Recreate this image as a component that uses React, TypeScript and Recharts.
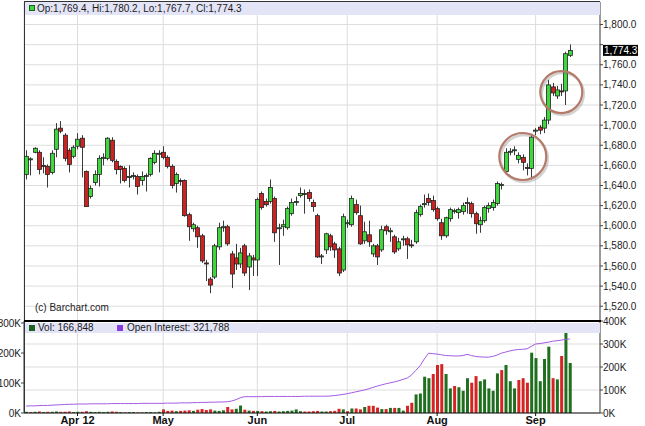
import React from 'react';
import { ComposedChart, Bar, Line, XAxis, YAxis, CartesianGrid, ReferenceDot, Cell } from 'recharts';

const dates = [
  '03-15','03-16','03-19','03-20','03-21','03-22','03-23','03-26','03-27','03-28','03-29','03-30',
  '04-02','04-03','04-04','04-05','04-09','04-10','04-11','04-12','04-13','04-16','04-17','04-18','04-19','04-20','04-23','04-24','04-25','04-26','04-27','04-30',
  '05-01','05-02','05-03','05-04','05-07','05-08','05-09','05-10','05-11','05-14','05-15','05-16','05-17','05-18','05-21','05-22','05-23','05-24','05-25','05-29','05-30','05-31',
  '06-01','06-04','06-05','06-06','06-07','06-08','06-11','06-12','06-13','06-14','06-15','06-18','06-19','06-20','06-21','06-22','06-25','06-26','06-27','06-28','06-29',
  '07-02','07-03','07-05','07-06','07-09','07-10','07-11','07-12','07-13','07-16','07-17','07-18','07-19','07-20','07-23','07-24','07-25','07-26','07-27','07-30','07-31',
  '08-01','08-02','08-03','08-06','08-07','08-08','08-09','08-10','08-13','08-14','08-15','08-16','08-17','08-20','08-21','08-22','08-23','08-24','08-27','08-28','08-29','08-30','08-31',
  '09-04','09-05','09-06','09-07','09-10','09-11','09-12','09-13','09-14',
];

const opens = [
  1651,1666,1673,1673,1660,1659,1653,1676,1697,1690,
  1675,1669,1679,1687,1654,1629,1643,1651,1667,1667,
  1685,1664,1659,1657,1648,1649,1649,1645,1649,1651,
  1663,1671,1673,1668,1659,1642,1645,1645,1611,1597,
  1598,1590,1563,1547,1549,1579,1598,1599,1572,1568,
  1562,1580,1559,1568,1566,1632,1624,1624,1627,1597,
  1599,1598,1612,1623,1630,1632,1633,1623,1610,1569,
  1576,1590,1582,1577,1556,1602,1601,1621,1610,1585,
  1591,1572,1580,1576,1599,1594,1589,1577,1586,1587,
  1581,1584,1611,1621,1627,1625,1617,1603,1590,1607,
  1614,1613,1614,1622,1622,1612,1601,1605,1617,1618,
  1622,1640,1654,1673,1675,1666,1668,1658,1657,1694,
  1698,1697,1705,1738,1729,1734,1734,1769.4,
];
const highs = [
  1675,1668,1678,1675,1668,1661,1675,1702,1704,1692,
  1677,1680,1692,1690,1655,1640,1655,1670,1672,1688,
  1688,1666,1660,1659,1660,1653,1651,1654,1652,1668,
  1675,1675,1679,1670,1661,1653,1647,1646,1613,1603,
  1600,1592,1566,1549,1582,1603,1605,1601,1575,1582,
  1578,1582,1573,1571,1628,1634,1627,1646,1629,1602,
  1606,1619,1627,1629,1638,1636,1636,1626,1612,1572,
  1593,1592,1584,1579,1612,1606,1630,1626,1620,1604,
  1605,1582,1582,1600,1601,1598,1591,1588,1590,1589,
  1586,1616,1621,1631,1632,1630,1619,1607,1609,1618,
  1617,1618,1623,1628,1624,1614,1609,1620,1623,1626,
  1644,1643,1677,1677,1679,1673,1671,1662,1690,1697,
  1700,1708,1745,1742,1739,1741,1773,1780.2,
];
const lows = [
  1646,1650,1672,1651,1652,1638,1651,1668,1692,1664,
  1653,1667,1676,1648,1619,1627,1640,1639,1660,1665,
  1663,1651,1642,1643,1638,1646,1631,1640,1634,1649,
  1661,1653,1666,1657,1637,1633,1640,1609,1585,1594,
  1578,1563,1545,1533,1547,1576,1594,1580,1538,1556,
  1558,1550,1536,1550,1550,1616,1619,1622,1584,1561,
  1590,1596,1610,1620,1628,1612,1624,1614,1568,1562,
  1572,1575,1568,1550,1554,1598,1599,1611,1581,1582,
  1579,1569,1561,1574,1591,1584,1572,1575,1580,1567,
  1578,1582,1609,1618,1620,1614,1605,1586,1588,1604,
  1612,1607,1611,1612,1608,1592,1593,1603,1613,1615,
  1620,1636,1651,1670,1670,1662,1655,1650,1646,1690,
  1691,1692,1701,1729,1726,1729,1720,1767.7,
];
const closes = [
  1669,1666.5,1677,1656,1659,1651,1672,1696,1694,1667,
  1661,1678,1686,1678,1619,1637,1651,1667,1668,1687,
  1665,1656,1656,1645,1649,1650,1639,1649,1650,1667,
  1672,1672,1668,1659,1640,1651,1644,1610,1599,1601,
  1589,1565,1562,1541,1580,1598,1599,1582,1552,1562,
  1573,1553,1570,1566,1626,1618,1621,1638,1593,1598,
  1601,1617,1623,1624,1632,1631,1627,1619,1569,1570,
  1592,1579,1576,1553,1609,1603,1627,1613,1582,1594,
  1584,1580,1569,1596,1595,1595,1574,1584,1587,1581,
  1580,1613,1619,1622,1623,1616,1607,1590,1608,1616,
  1615,1616,1620,1623,1612,1602,1605,1618,1620,1623,
  1642,1641,1673,1674,1675.5,1670,1663,1657,1688,1695,
  1695,1705,1740,1732,1735,1733,1771,1774.3,
];
// volume, thousands of contracts
const volumes = [
  4,3,4,5,3,4,4,5,4,4,5,3,4,4,6,4,3,4,3,4,5,4,3,2,3,3,2,2,3,3,2,4,
  12,7,8,6,7,8,9,7,11,13,10,12,8,7,
  9,20,12,14,25,11,8,7,7,
  6,5,6,7,5,6,7,8,12,6,5,5,6,7,
  5,5,6,7,14,12,6,15,15,12,20,24,24,18,13,13,17,17,17,8,24,34,
  62,65,121,116,130,160,163,130,82,90,86,74,116,101,123,106,112,82,74,132,143,160,106,82,110,116,101,201,183,106,180,221,116,112,190,268,166.848,
];
// open interest, thousands of contracts
const openInterest = [
  30,31,31,32,33,33,34,35,36,37,38,38,
  39,39,39,40,40,40,40,40,41,41,41,41,41,41,41,42,42,42,42,42,
  42,43,43,43,44,44,44,45,45,46,46,47,47,48,48,
  49,52,58,66,71,
  71,71,71,71,72,72,72,72,72,72,72,72,72,73,73,73,73,73,73,
  74,76,78,81,84,88,92,96,
  100,105,111,117,122,127,131,135,140,146,152,
  165,185,205,235,260,258,256,253,250,249,248,248,250,255,250,246,244,243,243,246,
  252,260,265,270,274,276,277,279,290,300,302,305,308,312,314,317,320,321.788,
];

const monthTicks = ['04-02', '05-01', '06-01', '07-02', '08-01', '09-04'];
const monthLabels = ['Apr 12', 'May', 'Jun', 'Jul', 'Aug', 'Sep'];
const priceTicks = [1520, 1540, 1560, 1580, 1600, 1620, 1640, 1660, 1680, 1700, 1720, 1740, 1760, 1780, 1800];
const volTicks = [0, 100, 200, 300];
const oiTicks = [0, 100, 200, 300, 400];
// annotation circles: [candle index, price at centre]
const circleMarks = [[116, 1668.8], [125, 1732.9]];

const data = dates.map((d, i) => ({
  date: d,
  open: opens[i],
  high: highs[i],
  low: lows[i],
  close: closes[i],
  vol: volumes[i],
  oi: openInterest[i],
  up: i === 0 || closes[i] >= closes[i - 1],
}));

const last = data[data.length - 1];
const FONT = '"Liberation Sans", Arial, sans-serif';

const fmtPrice = (v: number) =>
  v.toLocaleString('en-US', { minimumFractionDigits: 1, maximumFractionDigits: 1 });
// the tick label hidden behind the last-price tag is left blank, as in the original
const fmtAxisPrice = (v: number) => (Math.abs(v - last.close) < 10 ? '' : fmtPrice(v));
const fmtK = (v: number) => `${v}K`;
const fmtNum = (v: number) => Math.round(v).toLocaleString('en-US');

const Candle = (props: any) => {
  const { x, y, width, height, payload } = props;
  if (x == null || y == null || !payload) return null;
  const { open, close, high, low } = payload;
  const top = Math.min(y, y + height);
  const h = Math.abs(height);
  const k = high > low ? h / (high - low) : 0;
  const py = (v: number) => top + (high - v) * k;
  const cx = Math.round(x + width / 2) + 0.5;
  const bTop = py(Math.max(open, close));
  const bBot = py(Math.min(open, close));
  const bh = Math.max(bBot - bTop, 1);
  const green = close >= open;
  return (
    <g>
      <line x1={cx} x2={cx} y1={top} y2={top + h} stroke="#3a3a3a" strokeWidth={1} />
      <rect
        x={cx - 2}
        y={bTop}
        width={4}
        height={bh}
        fill={green ? '#3ed83e' : '#cc2222'}
        stroke="#222"
        strokeWidth={0.8}
      />
    </g>
  );
};

const Ring = (props: any) => {
  const { cx, cy, r } = props;
  if (cx == null) return null;
  return (
    <g>
      <circle cx={cx + 1.5} cy={cy + 2} r={r} fill="none" stroke="rgba(110,110,110,0.3)" strokeWidth={2.6} />
      <circle cx={cx} cy={cy} r={r} fill="none" stroke="#b47a6a" strokeWidth={2.2} />
    </g>
  );
};

const LastTag = (props: any) => {
  const { cx, cy } = props;
  if (cx == null) return null;
  const bx = Math.round(cx) + 33;
  return (
    <g>
      <rect x={bx} y={cy - 5.5} width={35} height={11} fill="#000" />
      <text x={bx + 1} y={cy + 3.6} fontSize={10} fill="#fff" fontFamily={FONT}>
        {fmtPrice(last.close)}
      </text>
    </g>
  );
};

const MonthTick = (props: any) => {
  const { x, y, payload } = props;
  const idx = monthTicks.indexOf(payload.value);
  return (
    <text x={x} y={y + 8} textAnchor="middle" fontSize={11} fontWeight="bold" fill="#111" fontFamily={FONT}>
      {idx >= 0 ? monthLabels[idx] : ''}
    </text>
  );
};

const abs = (style: React.CSSProperties): React.CSSProperties => ({ position: 'absolute', ...style });

export default function App() {
  return (
    <div style={abs({ left: 0, top: 0, width: 645, height: 426, background: '#fff', overflow: 'hidden', fontFamily: FONT })}>
      <div style={abs({ left: 0, top: 0 })}>
        <ComposedChart width={645} height={322} data={data} margin={{ top: 2, right: 0, bottom: 1, left: 24 }}>
          <CartesianGrid stroke="#dddddd" strokeWidth={1} />
          <XAxis dataKey="date" hide padding={{ left: 0, right: 28 }} ticks={monthTicks} />
          <YAxis
            orientation="right"
            width={45}
            domain={[1505.3, 1822.4]}
            allowDataOverflow
            ticks={priceTicks}
            interval={0}
            tickFormatter={fmtAxisPrice}
            axisLine={{ stroke: '#444' }}
            tickLine={{ stroke: '#444' }}
            tickSize={3}
            tickMargin={0}
            tick={{ fontSize: 10, fill: '#222', fontFamily: FONT }}
          />
          <Bar dataKey={(d: any) => [d.low, d.high]} shape={<Candle />} barSize={4} isAnimationActive={false} />
          {circleMarks.map(([i, p], n) => (
            <ReferenceDot key={n} x={dates[i]} y={p} r={n === 0 ? 23.5 : 21} shape={<Ring />} />
          ))}
          <ReferenceDot x={last.date} y={last.close} r={1} shape={<LastTag />} />
        </ComposedChart>
      </div>

      <div style={abs({ left: 0, top: 310 })}>
        <ComposedChart width={645} height={116} data={data} margin={{ top: 11, right: 0, bottom: 0, left: 0 }}>
          <CartesianGrid stroke="#dddddd" strokeWidth={1} yAxisId="oi" />
          <XAxis
            dataKey="date"
            padding={{ left: 0, right: 28 }}
            ticks={monthTicks}
            interval={0}
            height={13}
            axisLine={{ stroke: '#111' }}
            tickLine={{ stroke: '#111' }}
            tickSize={3}
            tickMargin={0}
            tick={<MonthTick />}
          />
          <YAxis
            yAxisId="vol"
            orientation="left"
            width={24}
            domain={[0, 306.67]}
            allowDataOverflow
            ticks={volTicks}
            interval={0}
            tickFormatter={fmtK}
            axisLine={{ stroke: '#444' }}
            tickLine={{ stroke: '#444' }}
            tickSize={3}
            tickMargin={0}
            tick={{ fontSize: 10, fill: '#222', fontFamily: FONT }}
          />
          <YAxis
            yAxisId="oi"
            orientation="right"
            width={45}
            domain={[0, 400]}
            allowDataOverflow
            ticks={oiTicks}
            interval={0}
            tickFormatter={fmtK}
            axisLine={{ stroke: '#444' }}
            tickLine={{ stroke: '#444' }}
            tickSize={3}
            tickMargin={0}
            tick={{ fontSize: 10, fill: '#222', fontFamily: FONT }}
          />
          <Bar yAxisId="vol" dataKey="vol" barSize={3} isAnimationActive={false}>
            {data.map((d, i) => (
              <Cell key={i} fill={d.up ? '#1f6f1f' : '#d42424'} />
            ))}
          </Bar>
          <Line yAxisId="oi" dataKey="oi" type="linear" stroke="#a35be4" strokeWidth={1} dot={false} isAnimationActive={false} />
        </ComposedChart>
      </div>

      {/* panel frame */}
      <div style={abs({ left: 24, top: 1, width: 576, height: 1, background: '#333' })} />
      <div style={abs({ left: 24, top: 1, width: 1, height: 412, background: '#333' })} />
      <div style={abs({ left: 24, top: 320, width: 577, height: 2, background: '#000' })} />

      {/* price legend band */}
      <div style={abs({ left: 25, top: 2, width: 575, height: 13, background: '#e4e4f7' })} />
      <div style={abs({ left: 29, top: 5, width: 6, height: 6, background: '#3ed83e', border: '1px solid #1d5f1d', boxSizing: 'border-box' })} />
      <div style={abs({ left: 37, top: 2, fontSize: 10, lineHeight: '13px', color: '#1a1a1a', whiteSpace: 'nowrap' })}>
        {`Op:${fmtPrice(last.open)}, Hi:${fmtPrice(last.high)}, Lo:${fmtPrice(last.low)}, Cl:${fmtPrice(last.close)}`}
      </div>

      <div style={abs({ left: 35, top: 302, fontSize: 10, lineHeight: '12px', color: '#222', whiteSpace: 'nowrap' })}>
        (c) Barchart.com
      </div>

      {/* volume legend band */}
      <div style={abs({ left: 25, top: 323, width: 575, height: 10, background: '#e4e4f7' })} />
      <div style={abs({ left: 29, top: 325, width: 6, height: 6, background: '#1f5f1f' })} />
      <div style={abs({ left: 38, top: 322, fontSize: 10, lineHeight: '12px', color: '#1a1a1a', whiteSpace: 'nowrap' })}>
        {`Vol: ${fmtNum(last.vol * 1000)}`}
      </div>
      <div style={abs({ left: 117, top: 325, width: 6, height: 6, background: '#8a3be0' })} />
      <div style={abs({ left: 127, top: 322, fontSize: 10, lineHeight: '12px', color: '#1a1a1a', whiteSpace: 'nowrap' })}>
        {`Open Interest: ${fmtNum(last.oi * 1000)}`}
      </div>
    </div>
  );
}
